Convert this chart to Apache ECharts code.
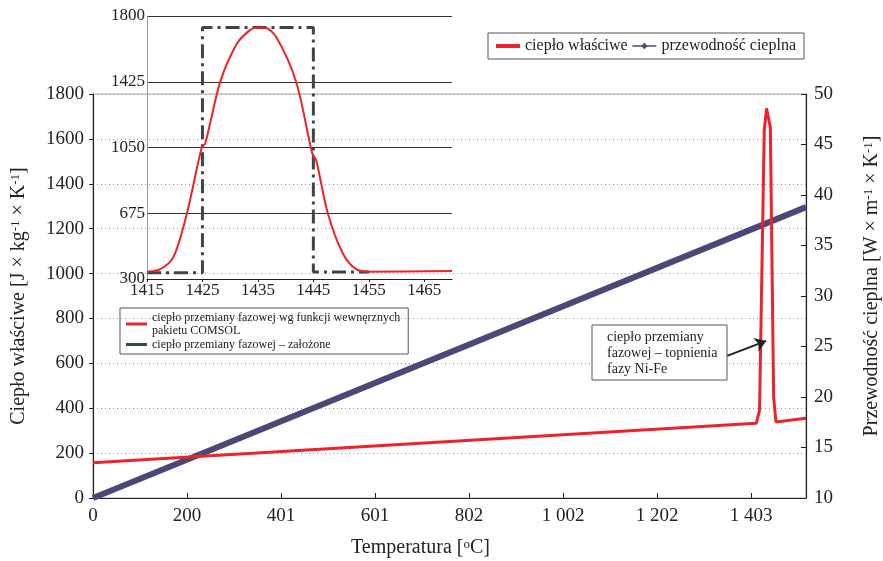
<!DOCTYPE html>
<html>
  <head>
    <meta charset="utf-8" />
    <title>Ciepło właściwe i przewodność cieplna</title>
    <script src="https://cdn.jsdelivr.net/npm/echarts@6/dist/echarts.min.js"></script>
  </head>
  <body style="margin:0">
    <div id="main" style="width: 883px;height:561px;"></div>
    <script type="text/javascript">
      // dane
      var cpTemp = [0, 1414, 1421, 1431, 1436, 1438, 1444, 1451, 1456, 1520];
      var cpValue = [157, 333, 391, 1638, 1736, 1736, 1651, 449, 339, 355];
      var kTemp = [0, 1520];
      var kValue = [10, 38.8];

      // wstawka - przemiana fazowa
      var insetTemp = [1415, 1417.4, 1419.8, 1422.2, 1424.9, 1425.5, 1428.2, 1431.2, 1433.5, 1434.7,
                       1436.2, 1438.3, 1441.9, 1444.8, 1445.5, 1447.6, 1450.3, 1452.7, 1455.1, 1470];
      var insetCp = [342, 356, 428, 675, 1054, 1073, 1424, 1642, 1718, 1733,
                     1733, 1680, 1424, 1016, 978, 675, 447, 356, 342, 346];
      var stepTemp = [1415, 1425, 1425, 1445, 1445, 1455];
      var stepCp = [335, 335, 1735, 1735, 340, 340];

      // strzałka adnotacji (w jednostkach osi)
      var arrowFrom = [1352, 633];
      var arrowTo = [1435, 700];

      function pairs(xs, ys) {
        return xs.map(function (x, i) { return [x, ys[i]]; });
      }
      function plain(v) { return '' + Math.round(v); }

      var FONT = '"Liberation Serif", "DejaVu Serif", serif';
      var RED = '#ee2229';
      var BLUE = '#4a4878';
      var DARK = '#3a4842';

      var myChart = echarts.init(document.getElementById('main'));

      option = {
        animation: false,
        textStyle: { fontFamily: FONT, color: '#222' },
        grid: [
          { left: 93, top: 94, width: 713, height: 404, show: true, borderColor: '#aaa', borderWidth: 1,
            outerBoundsMode: 'none', containLabel: false },
          { left: 147, top: 16, width: 305, height: 263, outerBoundsMode: 'none', containLabel: false }
        ],
        legend: [
          {
            left: 488, top: 33,
            padding: [5, 8, 5, 8],
            borderColor: '#555', borderWidth: 1,
            itemWidth: 24, itemHeight: 8, itemGap: 4,
            textStyle: { fontFamily: FONT, fontSize: 16, color: '#222' },
            data: [
              { name: 'ciepło właściwe', icon: 'path://M0 0h24v4H0z', itemStyle: { color: RED } },
              { name: 'przewodność cieplna', lineStyle: { width: 1.5 } }
            ]
          },
          {
            left: 120, top: 308, orient: 'vertical',
            padding: [3, 8, 3, 6],
            borderColor: '#555', borderWidth: 1,
            itemWidth: 21, itemHeight: 3, itemGap: 1,
            textStyle: { fontFamily: FONT, fontSize: 12, color: '#222', lineHeight: 13 },
            data: [
              { name: 'ciepło przemiany fazowej wg funkcji wewnęrznych\npakietu COMSOL', icon: 'rect' },
              { name: 'ciepło przemiany fazowej – założone', icon: 'rect' }
            ]
          }
        ],
        xAxis: [
          {
            type: 'value', gridIndex: 0,
            min: 0, max: 1520, interval: 200.4,
            name: 'Temperatura [{s|o}C]',
            nameLocation: 'middle', nameGap: 40,
            nameTextStyle: {
              fontFamily: FONT, fontSize: 20, color: '#222', padding: [0, 58, 0, 0],
              rich: { s: { fontSize: 13, verticalAlign: 'top', fontFamily: FONT, color: '#222' } }
            },
            axisLine: { lineStyle: { color: '#222', width: 1.2 } },
            axisTick: { inside: true, length: 5, lineStyle: { color: '#222' } },
            axisLabel: {
              fontSize: 19, color: '#222', margin: 9, showMaxLabel: false,
              formatter: function (v) {
                var n = Math.round(v);
                if (n >= 1000) {
                  var r = n % 1000;
                  return Math.floor(n / 1000) + ' ' + ('00' + r).slice(-3);
                }
                return '' + n;
              }
            },
            splitLine: { show: false }
          },
          {
            type: 'value', gridIndex: 1,
            min: 1415, max: 1470, interval: 10,
            axisLine: { lineStyle: { color: '#222', width: 1.2 } },
            axisTick: { length: 3, lineStyle: { color: '#222' } },
            axisLabel: { fontSize: 17, color: '#222', margin: 3, showMaxLabel: false, formatter: plain },
            splitLine: { show: false }
          }
        ],
        yAxis: [
          {
            type: 'value', gridIndex: 0,
            min: 0, max: 1800, interval: 200,
            name: 'Ciepło właściwe [J × kg{s|-1} × K{s|-1}]',
            nameLocation: 'middle', nameGap: 64, nameRotate: 90,
            nameTextStyle: {
              fontFamily: FONT, fontSize: 20, color: '#222',
              rich: { s: { fontSize: 13, verticalAlign: 'top', fontFamily: FONT, color: '#222' } }
            },
            axisLine: { show: true, lineStyle: { color: '#222', width: 1.2 } },
            axisTick: { show: true, length: 4, lineStyle: { color: '#222' } },
            axisLabel: { fontSize: 19, color: '#222', margin: 9, formatter: plain },
            splitLine: { show: true, lineStyle: { color: '#999', type: [1, 3] } }
          },
          {
            type: 'value', gridIndex: 0, position: 'right',
            min: 10, max: 50, interval: 5,
            name: 'Przewodność cieplna [W × m{s|-1} × K{s|-1}]',
            nameLocation: 'middle', nameGap: 56, nameRotate: 90,
            nameTextStyle: {
              fontFamily: FONT, fontSize: 20, color: '#222', padding: [0, 0, 0, 20],
              rich: { s: { fontSize: 13, verticalAlign: 'top', fontFamily: FONT, color: '#222' } }
            },
            axisLine: { show: true, lineStyle: { color: '#222', width: 1.2 } },
            axisTick: { show: true, inside: true, length: 5, lineStyle: { color: '#222' } },
            axisLabel: { fontSize: 19, color: '#222', margin: 8, formatter: plain },
            splitLine: { show: false }
          },
          {
            type: 'value', gridIndex: 1,
            min: 300, max: 1800, interval: 375,
            axisLine: { show: true, lineStyle: { color: '#999' } },
            axisTick: { show: false },
            axisLabel: { fontSize: 17, color: '#222', margin: 2, formatter: plain },
            splitLine: { show: true, lineStyle: { color: '#333', width: 1 } }
          }
        ],
        series: [
          {
            name: 'ciepło właściwe',
            type: 'line', xAxisIndex: 0, yAxisIndex: 0,
            symbol: 'none',
            lineStyle: { color: RED, width: 3 },
            itemStyle: { color: RED },
            data: pairs(cpTemp, cpValue),
            z: 3,
            markLine: {
              silent: true,
              symbol: ['none', 'arrow'], symbolSize: 11,
              label: { show: false },
              lineStyle: { color: '#222', width: 2, type: 'solid' },
              data: [[{ coord: arrowFrom }, { coord: arrowTo }]]
            }
          },
          {
            name: 'przewodność cieplna',
            type: 'line', xAxisIndex: 0, yAxisIndex: 1,
            symbol: 'diamond', symbolSize: 7, showSymbol: false,
            lineStyle: { color: BLUE, width: 6 },
            itemStyle: { color: BLUE },
            data: pairs(kTemp, kValue),
            z: 2
          },
          {
            name: 'ciepło przemiany fazowej – założone',
            type: 'line', xAxisIndex: 1, yAxisIndex: 2,
            symbol: 'none',
            lineStyle: { color: DARK, width: 3, type: [14, 5, 3, 5] },
            itemStyle: { color: DARK },
            data: pairs(stepTemp, stepCp)
          },
          {
            name: 'ciepło przemiany fazowej wg funkcji wewnęrznych\npakietu COMSOL',
            type: 'line', xAxisIndex: 1, yAxisIndex: 2,
            symbol: 'none', smooth: 0.3,
            lineStyle: { color: RED, width: 2 },
            itemStyle: { color: RED },
            data: pairs(insetTemp, insetCp)
          }
        ],
        graphic: [
          {
            type: 'rect',
            shape: { x: 592, y: 325, width: 135, height: 55 },
            style: { fill: '#fff', stroke: '#555', lineWidth: 1 },
            z: 10
          },
          {
            type: 'text', x: 607, y: 329,
            style: {
              text: 'ciepło przemiany\nfazowej – topnienia\nfazy Ni-Fe',
              font: '14px "Liberation Serif", serif', fill: '#222', lineHeight: 16
            },
            z: 11
          }
        ]
      };

      myChart.setOption(option);
    </script>
  </body>
</html>
